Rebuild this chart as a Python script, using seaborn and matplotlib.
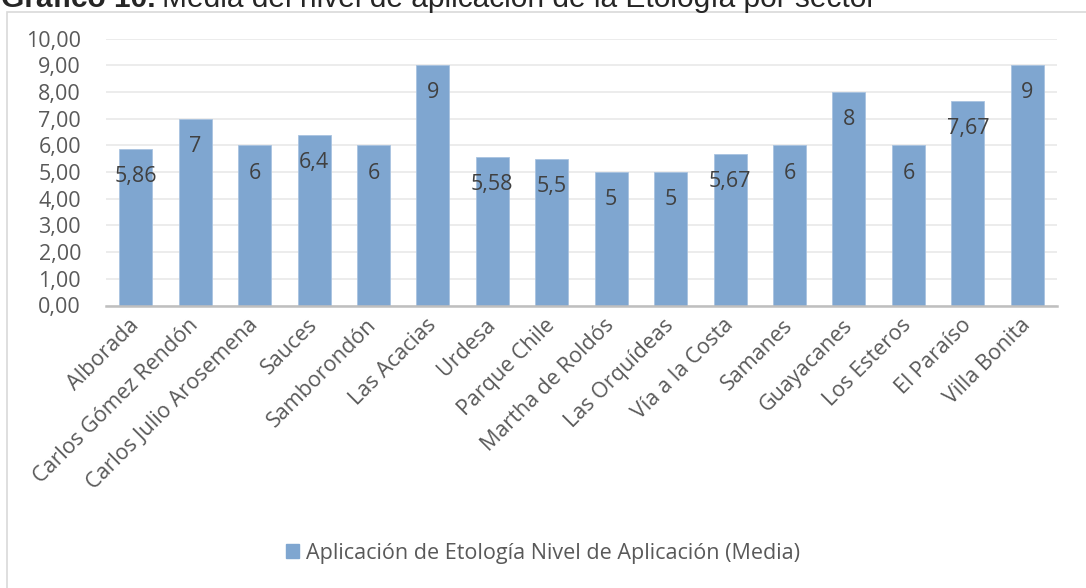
import matplotlib
matplotlib.use("Agg")
import matplotlib.pyplot as plt
import matplotlib.patches as mpatches
import pandas as pd
import seaborn as sns

# ---------------- Data ----------------
sectores = ["Alborada", "Carlos Gómez Rendón", "Carlos Julio Arosemena", "Sauces",
            "Samborondón", "Las Acacias", "Urdesa", "Parque Chile", "Martha de Roldós",
            "Las Orquídeas", "Vía a la Costa", "Samanes", "Guayacanes", "Los Esteros",
            "El Paraíso", "Villa Bonita"]
media = [5.86, 7, 6, 6.4, 6, 9, 5.58, 5.5, 5, 5, 5.67, 6, 8, 6, 7.67, 9]
etiquetas = ["5,86", "7", "6", "6,4", "6", "9", "5,58", "5,5", "5", "5", "5,67",
             "6", "8", "6", "7,67", "9"]
yticks = [0, 1, 2, 3, 4, 5, 6, 7, 8, 9, 10]
serie = "Aplicación de Etología Nivel de Aplicación (Media)"

df = pd.DataFrame({"Sector": sectores, "Media": media})

sns.set_style("white")
plt.rcParams["font.family"] = ["Open Sans", "DejaVu Sans"]

bar_color = "#7FA6D0"
text_gray = "#595959"

fig = plt.figure(figsize=(10.86, 5.88), dpi=100)
ax = fig.add_axes([106 / 1086, 1 - 305.5 / 588, 951 / 1086, 267 / 588])

sns.barplot(data=df, x="Sector", y="Media", color=bar_color, saturation=1,
            width=0.555, edgecolor="#A9C3E0", linewidth=0.6, ax=ax, zorder=2)

# data labels inside end
for cont in ax.containers:
    txts = ax.bar_label(cont, labels=etiquetas, padding=-20, fontsize=15.5,
                        color="#404040")
    for t in txts:
        t.set_va("center")

ax.set_ylim(0, 10)
ax.set_xlim(-0.5, len(sectores) - 0.5)
ax.set_yticks(yticks)
ax.set_yticklabels([f"{v:.2f}".replace(".", ",") for v in yticks])
ax.set_xlabel("")
ax.set_ylabel("")
ax.grid(axis="y", color="#E9E9E9", linewidth=1.2, zorder=0)
ax.set_axisbelow(True)
for side in ["top", "right", "left"]:
    ax.spines[side].set_visible(False)
ax.spines["bottom"].set_color("#BFBFBF")
ax.spines["bottom"].set_linewidth(1.8)
ax.tick_params(axis="both", length=0, labelsize=15.5, colors=text_gray)
ax.tick_params(axis="y", pad=18)
plt.setp(ax.get_xticklabels(), rotation=45, ha="right", va="center",
         rotation_mode="anchor")
ax.tick_params(axis="x", pad=12)

# legend
handle = mpatches.Patch(color=bar_color, label=serie)
fig.legend(handles=[handle], loc="center", bbox_to_anchor=(0.5, 1 - 553 / 588),
           frameon=False, fontsize=15.5, handlelength=0.6, handleheight=0.6,
           handletextpad=0.3, labelcolor=text_gray)

# chart area border
fig.patches.append(mpatches.Rectangle((7 / 1086, -0.02), 1.1, 1 - 12 / 588 + 0.02,
                                      transform=fig.transFigure, fill=False,
                                      edgecolor="#D9D9D9", linewidth=1.2))

# caption at the very top (cropped in the original image)
t1 = fig.text(1 / 1086, 1 - 7 / 588, "Gráfico 10.", fontsize=21.5, fontweight="bold",
              family="Liberation Sans", va="baseline", ha="left")
fig.canvas.draw()
bb = t1.get_window_extent(renderer=fig.canvas.get_renderer())
fig.text(bb.x1 / fig.bbox.width + 0.006, 1 - 7 / 588,
         "Media del nivel de aplicación de la Etología por sector",
         fontsize=21.5, family="Liberation Sans", va="baseline", ha="left")

fig.savefig("out.png", dpi=100)
